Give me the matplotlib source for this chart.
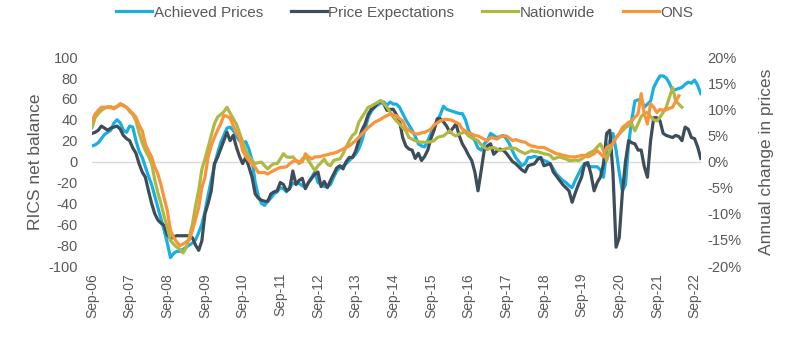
import matplotlib
matplotlib.use("Agg")
import matplotlib.pyplot as plt
import numpy as np

# monthly series, first point = Sep-06
achieved = [
    15, 16, 18, 22, 26, 28, 30, 37, 40, 37, 30, 28,
    34, 33, 20, 10, 4, -5, -14, -22, -33, -44, -55, -66,
    -78, -92, -88, -86, -86, -84, -82, -80, -78, -75, -68, -60,
    -48, -32, -18, -4, 8, 18, 25, 32, 33, 30, 24, 20,
    18, 19, 12, 1, -20, -33, -40, -42, -38, -35, -31, -29,
    -25, -26, -29, -25, -21, -21, -21, -23, -25, -20, -15, -10,
    -20, -22, -24, -24, -22, -15, -9, -6, -4, -2, 1, 4,
    7, 12, 20, 31, 42, 48, 52, 54, 56, 57, 54, 57,
    55, 55, 52, 46, 40, 35, 30, 24, 17, 15, 14, 20,
    27, 33, 39, 45, 53, 50, 49, 48, 47, 46, 46, 40,
    30, 24, 20, 13, 11, 17, 20, 27, 25, 23, 24, 25,
    22, 17, 10, 4, 0, -4, -2, 4, 4, 5, 4, 3,
    1, 0, -2, -7, -12, -15, -18, -20, -23, -25, -18, -12,
    -6, -2, -4, -5, -5, -5, -8, -15, 11, 20, 27, 11,
    -10, -28, -22, 17, 40, 58, 59, 60, 52, 55, 58, 71,
    77, 82, 82, 80, 75, 68, 69, 70, 71, 74, 76, 75,
    78, 73, 65,
]

expectations = [
    27, 28, 30, 34, 32, 30, 32, 33, 34, 31, 25, 22,
    20, 13, 8, -2, -10, -15, -28, -40, -50, -56, -59, -61,
    -70, -74, -72, -71, -71, -71, -71, -71, -73, -80, -85, -76,
    -50, -40, -28, -2, 4, 12, 20, 28, 20, 25, 14, 5,
    -2, 4, -5, -15, -31, -35, -37, -38, -38, -31, -29, -28,
    -20, -22, -28, -26, -9, -22, -18, -16, -26, -20, -16, -12,
    -10, -24, -19, -25, -18, -12, -6, -4, -7, 0, 4, 4,
    10, 20, 30, 36, 45, 50, 52, 56, 58, 55, 49, 50,
    50, 45, 39, 23, 15, 12, 11, 3, 8, 1, 5, 11,
    22, 30, 41, 41, 38, 34, 28, 32, 36, 25, 17, 12,
    6, 1, -10, -28, -9, 11, 15, 17, 7, 10, 12, 11,
    8, 4, 0, -2, -5, -8, -10, -4, -3, -2, 2, 4,
    -4, -3, -2, -10, -14, -18, -22, -25, -28, -39, -30, -22,
    -15, -2, -1, -12, -28, -20, -15, -2, 27, 30, -10, -82,
    -73, -30, 0, 20, 18, 17, 11, 11, -5, -15, 20, 42,
    42, 39, 27, 25, 24, 23, 25, 24, 20, 33, 31, 23,
    22, 14, 3,
]

nationwide = [
    6.5, 8.4, 9.2, 9.8, 10.2, 10.5, 10.5, 10.3, 10.6, 11.1, 10.8, 10.4,
    9.6, 9.0, 7.8, 5.5, 3.6, 2.1, 1.0, -0.4, -3.5, -6.0, -8.1, -10.5,
    -12.6, -15.1, -15.8, -16.4, -16.8, -17.5, -16.5, -14.5, -12.0, -8.5, -5.5, -1.5,
    0.5, 2.7, 5.0, 7.2, 8.5, 9.0, 9.5, 10.4, 9.3, 8.2, 7.2, 5.5,
    3.8, 2.1, 1.0, 0.2, -0.4, -0.2, -0.1, -0.8, -1.4, -0.8, -0.4, -0.4,
    0.5, 1.5, 0.9, 0.8, 0.9, 0.2, -0.4, 0.5, 0.9, 0.2, -0.8, -1.7,
    -0.8, -0.2, 0.5, -0.5, -0.8, 0.2, 0.4, 0.5, 1.5, 2.8, 4.0, 5.0,
    5.5, 7.5, 8.5, 9.4, 10.4, 10.6, 11.0, 11.3, 11.7, 11.1, 10.4, 9.5,
    8.5, 7.8, 7.2, 6.5, 5.9, 4.6, 4.3, 4.0, 3.8, 3.7, 3.7, 3.7,
    3.8, 4.0, 4.6, 4.8, 4.9, 5.4, 5.9, 5.2, 4.9, 5.3, 5.5, 5.6,
    4.9, 4.5, 4.3, 4.0, 3.2, 2.7, 2.3, 2.6, 2.7, 2.4, 2.1, 2.3,
    2.5, 2.6, 2.6, 2.5, 2.1, 1.8, 1.5, 1.8, 2.1, 1.9, 1.9, 1.7,
    1.5, 1.4, 1.2, 0.5, 0.7, 0.9, 0.7, 0.5, 0.2, 0.2, 0.3, 0.2,
    0.5, 0.9, 1.5, 1.8, 2.1, 2.8, 3.4, 2.1, 0.2, 2.1, 3.5, 4.6,
    5.3, 5.9, 6.5, 6.9, 7.2, 5.9, 7.2, 8.6, 9.2, 9.4, 8.6, 8.0,
    7.8, 8.5, 9.4, 10.4, 12.3, 14.2, 11.6, 11.0, 10.4,
]

ons = [
    7.8, 9.1, 9.8, 10.4, 10.4, 10.4, 10.3, 10.1, 10.5, 10.9, 10.7, 10.4,
    9.8, 9.2, 8.5, 7.0, 5.9, 3.4, 2.0, 0.9, -1.0, -2.4, -4.5, -7.0,
    -9.4, -13.2, -14.5, -15.4, -16.1, -15.8, -15.4, -15.0, -13.2, -11.0, -8.8, -5.0,
    -3.0, 0.9, 3.0, 4.6, 6.0, 7.2, 8.8, 8.7, 8.3, 6.9, 5.5, 4.6,
    2.1, 1.0, 0.2, -0.5, -1.1, -2.1, -2.1, -2.1, -2.4, -2.0, -1.7, -1.4,
    -1.1, -1.1, -1.0, -0.4, 0.0, 0.2, 0.0, -0.1, 1.5, 0.9, 0.5, 0.9,
    0.9, 1.0, 1.2, 1.3, 1.5, 1.6, 1.8, 2.1, 2.4, 2.7, 3.0, 3.5,
    4.0, 4.6, 5.3, 5.9, 6.5, 7.0, 7.5, 7.8, 8.1, 8.5, 8.8, 9.1,
    8.9, 8.8, 8.2, 7.8, 6.5, 6.0, 5.6, 5.3, 5.3, 5.5, 5.6, 5.9,
    6.2, 7.0, 7.4, 7.8, 8.0, 8.1, 8.0, 7.8, 7.5, 7.2, 6.2, 5.9,
    5.5, 5.3, 5.0, 4.9, 4.6, 4.3, 4.0, 4.6, 4.5, 4.3, 4.7, 4.9,
    4.9, 4.5, 4.0, 4.2, 4.0, 3.8, 3.7, 3.3, 3.0, 2.9, 2.7, 2.7,
    2.7, 2.4, 2.1, 1.8, 1.5, 1.4, 1.2, 1.1, 0.9, 0.9, 0.9, 1.0,
    1.2, 1.2, 0.9, 1.2, 1.5, 2.1, 1.5, 0.9, 2.7, 3.0, 3.4, 4.5,
    5.3, 6.5, 7.0, 7.5, 7.8, 8.5, 9.1, 13.0, 9.1, 7.2, 11.1, 10.4,
    9.4, 10.0, 9.8, 9.9, 10.2, 10.4, 11.5, 12.6,
]

tick_labels = ["Sep-06", "Sep-07", "Sep-08", "Sep-09", "Sep-10", "Sep-11",
               "Sep-12", "Sep-13", "Sep-14", "Sep-15", "Sep-16", "Sep-17",
               "Sep-18", "Sep-19", "Sep-20", "Sep-21", "Sep-22"]

plt.rcParams["font.family"] = ["Liberation Sans", "DejaVu Sans"]
plt.rcParams["axes.unicode_minus"] = False
grey = "#595959"

fig = plt.figure(figsize=(8, 3.38), dpi=100)
ax = fig.add_axes([0.115, 0.213, 0.761, 0.618])
ax2 = ax.twinx()

lw = 2.3
l1, = ax.plot(np.arange(len(achieved)), achieved, color="#1AAFE3", lw=lw, label="Achieved Prices")
l2, = ax.plot(np.arange(len(expectations)), expectations, color="#3D4D59", lw=lw, label="Price Expectations")
l3, = ax2.plot(np.arange(len(nationwide)), nationwide, color="#AFB843", lw=lw, label="Nationwide")
l4, = ax2.plot(np.arange(len(ons)), ons, color="#F7943C", lw=lw, label="ONS")

ax.axhline(0, color="#D9D9D9", lw=1, zorder=0)

ax.set_xlim(0, 194)
ax.set_ylim(-100, 100)
ax2.set_ylim(-20, 20)
ax.set_yticks(range(-100, 101, 20))
ax2.set_yticks(range(-20, 21, 5))
ax2.set_yticklabels([f"{v}%" for v in range(-20, 21, 5)])
ax.set_xticks(range(0, 193, 12))
ax.set_xticklabels(tick_labels, rotation=90)

for a in (ax, ax2):
    for s in a.spines.values():
        s.set_visible(False)
    a.tick_params(length=0, labelsize=10.5, colors=grey)
ax.tick_params(axis="y", pad=10)
ax2.tick_params(axis="y", pad=5)
ax.tick_params(axis="x", pad=5, labelsize=10)

ax.set_ylabel("RICS net balance", fontsize=12.5, color=grey, labelpad=4)
ax2.set_ylabel("Annual change in prices", fontsize=12.5, color=grey, labelpad=12)

fig.legend(handles=[l1, l2, l3, l4], loc="center", bbox_to_anchor=(0.506, 0.963),
           ncol=4, frameon=False, fontsize=11, handlelength=2.35, handletextpad=0.13,
           columnspacing=1.8, labelcolor=grey)

fig.savefig("out.png", dpi=100)
